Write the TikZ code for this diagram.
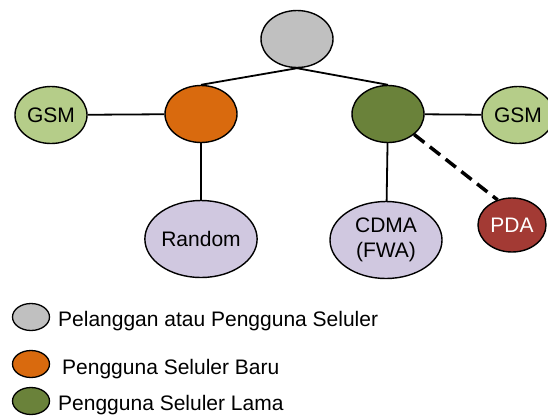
\documentclass[tikz,border=0pt]{standalone}
\usepackage{fontspec}
\setmainfont{Liberation Sans}
\usetikzlibrary{shapes.geometric}

\definecolor{abu}{RGB}{192,192,192}
\definecolor{oranye}{RGB}{217,106,14}
\definecolor{hijautua}{RGB}{106,130,58}
\definecolor{hijaumuda}{RGB}{181,205,137}
\definecolor{ungu}{RGB}{208,200,224}
\definecolor{merah}{RGB}{163,58,52}

\begin{document}
\begin{tikzpicture}[x=1pt,y=-1pt,
  blob/.style={ellipse, draw=black, line width=1.4pt, inner sep=0pt,
    minimum width=72pt, minimum height=57pt, align=center,
    font=\fontsize{21}{25}\selectfont},
  besar/.style={blob, fill=ungu, minimum width=112pt, minimum height=77pt},
  kecil/.style={ellipse, draw=black, line width=1.3pt, inner sep=0pt,
    minimum width=37pt, minimum height=27pt},
  link/.style={line width=1.8pt},
  putus/.style={line width=3.5pt, dash pattern=on 13pt off 7pt},
  ket/.style={anchor=base west, inner sep=0pt, font=\fontsize{21}{25}\selectfont}]

\useasboundingbox (0,0) rectangle (548,416);

% Draw the tree nodes
\node[blob, fill=abu] (pelanggan) at (297,39) {};
\node[blob, fill=oranye] (baru) at (201,114) {};
\node[blob, fill=hijautua] (lama) at (388,114) {};
\node[blob, fill=hijaumuda] (gsmkiri) at (51,115) {GSM};
\node[blob, fill=hijaumuda] (gsmkanan) at (518,115) {GSM};
\node[besar] (random) at (201,239) {Random};
\node[besar] (cdma) at (386,240) {CDMA\\(FWA)};
\node[blob, fill=merah, text=white, minimum width=68pt, minimum height=54pt] (pda) at (512,225) {PDA};

% Connect them
\draw[link] (pelanggan.south) -- (baru.north);
\draw[link] (pelanggan.south) -- (lama.north);
\draw[link] (gsmkiri) -- (baru);
\draw[link] (lama) -- (gsmkanan);
\draw[link] (baru) -- (random);
\draw[link] (lama) -- (cdma);
\draw[putus] (lama) -- (pda.120);

% Legend
\node[kecil, fill=abu] (kabu) at (31,317) {};
\node[ket] (tabu) at (58,326) {Pelanggan atau Pengguna Seluler};
\node[kecil, fill=oranye] (koranye) at (31,364) {};
\node[ket] (toranye) at (62,374) {Pengguna Seluler Baru};
\node[kecil, fill=hijautua] (khijau) at (31,401) {};
\node[ket] (thijau) at (58,410) {Pengguna Seluler Lama};

\end{tikzpicture}
\end{document}
